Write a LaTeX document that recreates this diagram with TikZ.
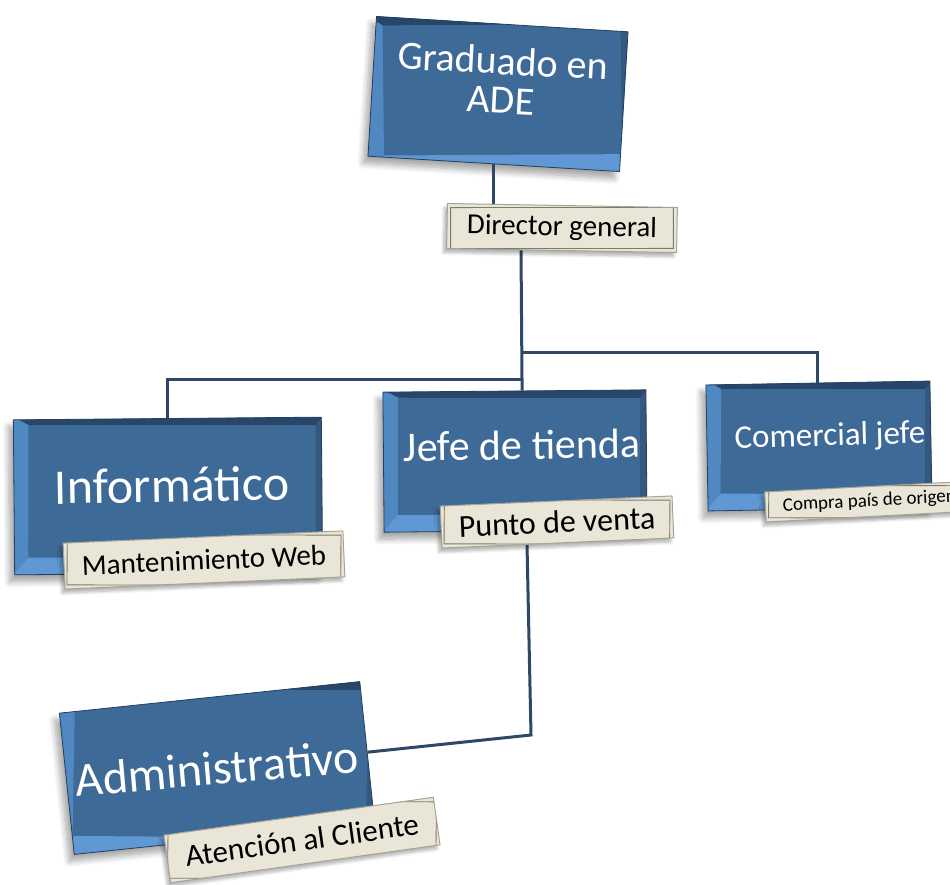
\documentclass[tikz,border=0pt]{standalone}
\usepackage{fontspec}
\setmainfont{Carlito}
\usetikzlibrary{shadows.blur}

\definecolor{face}{HTML}{3D6A97}
\definecolor{edge}{HTML}{24405F}
\definecolor{bevtop}{HTML}{27466A}
\definecolor{bevright}{HTML}{33597F}
\definecolor{bevleft}{HTML}{5088C2}
\definecolor{bevlow}{HTML}{5F98D3}
\definecolor{wire}{HTML}{2E4867}
\definecolor{tagfill}{HTML}{E9E6D7}
\definecolor{tagedge}{HTML}{A7A496}
\definecolor{tagline}{HTML}{7D7A6E}

\tikzset{
  bevelbox/.style={rectangle, inner sep=0pt, fill=face, draw=edge, line width=0.8pt,
    blur shadow={shadow xshift=-5pt, shadow yshift=-7pt, shadow opacity=35,
                 shadow blur steps=8, shadow blur radius=6pt},
    path picture={
      \path (path picture bounding box.south west) coordinate (bsw)
            (path picture bounding box.south east) coordinate (bse)
            (path picture bounding box.north west) coordinate (bnw)
            (path picture bounding box.north east) coordinate (bne);
      \path ([xshift=15pt,yshift=17pt]bsw) coordinate (isw)
            ([xshift=-7pt,yshift=17pt]bse) coordinate (ise)
            ([xshift=15pt,yshift=-8pt]bnw) coordinate (inw)
            ([xshift=-7pt,yshift=-8pt]bne) coordinate (ine);
      \fill[bevtop] (bnw) -- (bne) -- (ine) -- (inw) -- cycle;
      \fill[bevright] (bne) -- (bse) -- (ise) -- (ine) -- cycle;
      \fill[bevleft] (bnw) -- (inw) -- (isw) -- (bsw) -- cycle;
      \fill[bevlow] (bsw) -- (isw) -- (ise) -- (bse) -- cycle;
    }},
  boxtext/.style={text=white, align=center, inner sep=0pt},
  tag/.style={rectangle, inner sep=0pt, fill=tagfill, draw=tagedge, line width=1pt,
    text=black,
    blur shadow={shadow xshift=-3pt, shadow yshift=-4pt, shadow opacity=30,
                 shadow blur steps=6, shadow blur radius=3pt},
    path picture={
      \draw[tagline, line width=0.9pt]
        ([xshift=4pt,yshift=4pt]path picture bounding box.south west) --
        ([xshift=-4pt,yshift=4pt]path picture bounding box.south east) --
        ([xshift=-4pt,yshift=-4pt]path picture bounding box.north east) --
        ([xshift=4pt,yshift=-4pt]path picture bounding box.north west) -- cycle;
    }},
  wireline/.style={draw=wire, line width=3pt},
}

\begin{document}
\begin{tikzpicture}[x=1pt, y=-1pt]
  \useasboundingbox (0,0) rectangle (950,885);

  % junction points of the tree lines
  \coordinate (jr) at (521,352);
  \coordinate (jl) at (522,379);
  \coordinate (ab) at (531,735);

  % boxes
  \node[bevelbox, minimum width=252pt, minimum height=140pt, rotate=-3.5] (grad) at (498,94) {};
  \node[bevelbox, minimum width=308pt, minimum height=155pt, rotate=0.5] (inf) at (168,496) {};
  \node[bevelbox, minimum width=263pt, minimum height=140pt, rotate=0.5] (jefe) at (515,461) {};
  \node[bevelbox, minimum width=224pt, minimum height=126pt, rotate=1] (com) at (819,446) {};
  \node[bevelbox, minimum width=302pt, minimum height=142pt, rotate=6] (adm) at (217,768) {};

  % box texts
  \node[boxtext, rotate=-3, font=\fontsize{40}{39}\selectfont] (gradtxt) at (502,80) {Graduado en\\ADE};
  \node[boxtext, rotate=1, font=\fontsize{50}{50}\selectfont] (inftxt) at (172,485) {Informático};
  \node[boxtext, rotate=1, font=\fontsize{42}{42}\selectfont] (jefetxt) at (522,445) {Jefe de tienda};
  \node[boxtext, rotate=1.5, font=\fontsize{33}{33}\selectfont] (comtxt) at (830,437) {Comercial jefe};
  \node[boxtext, rotate=5, font=\fontsize{48}{48}\selectfont] (admtxt) at (217,768) {Administrativo};

  % connectors
  \draw[wireline] (grad.south) -- (grad.south |- 0,206);
  \draw[wireline] (jr |- 0,250) -- (jl) -- (jl |- jefe.north);
  \draw[wireline] (jr) -| (com.north);
  \draw[wireline] (jl) -| (inf.north);
  \draw[wireline] (527,544) -- (ab) -- (adm.east);

  % tags
  \node[tag, minimum width=230pt, minimum height=45pt, rotate=-1, font=\fontsize{29}{29}\selectfont] (dir) at (562,228) {Director general};
  \node[tag, minimum width=280pt, minimum height=46pt, rotate=2.5, font=\fontsize{29}{29}\selectfont] (mant) at (204,560) {Mantenimiento Web};
  \node[tag, minimum width=232pt, minimum height=42pt, rotate=2.5, font=\fontsize{32}{32}\selectfont] (pv) at (557,522) {Punto de venta};
  \node[tag, minimum width=200pt, minimum height=30pt, rotate=3, font=\fontsize{19}{19}\selectfont, anchor=west] (cp) at (765,507) {\hspace*{8pt}Compra país de origen\hfill};
  \node[tag, minimum width=272pt, minimum height=48pt, rotate=8, font=\fontsize{31}{31}\selectfont] (at) at (302,840) {Atención al Cliente};
\end{tikzpicture}
\end{document}
